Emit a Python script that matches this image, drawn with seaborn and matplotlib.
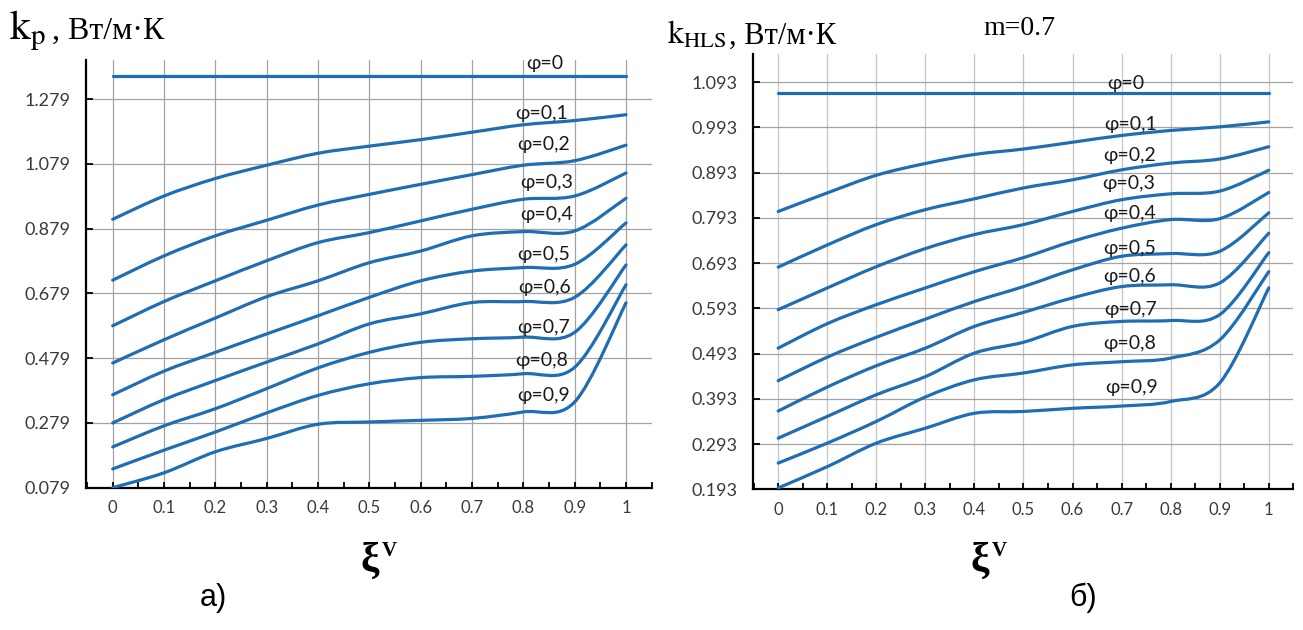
import numpy as np
import matplotlib
matplotlib.use("Agg")
import matplotlib.pyplot as plt
from matplotlib.path import Path
from matplotlib.patches import PathPatch
from matplotlib.ticker import FixedLocator, FixedFormatter
import seaborn as sns

# ---------------- data ----------------
xi = [0.0, 0.1, 0.2, 0.3, 0.4, 0.5, 0.6, 0.7, 0.8, 0.9, 1.0]
xi_labels = ["0", "0.1", "0.2", "0.3", "0.4", "0.5", "0.6", "0.7", "0.8", "0.9", "1"]
phi_labels = ["φ=0", "φ=0,1", "φ=0,2", "φ=0,3", "φ=0,4",
              "φ=0,5", "φ=0,6", "φ=0,7", "φ=0,8", "φ=0,9"]

# a) k_p
kp_ticks = [0.079, 0.279, 0.479, 0.679, 0.879, 1.079, 1.279]
kp_phi00 = [1.351, 1.351, 1.351, 1.351, 1.351, 1.351, 1.351, 1.351, 1.351, 1.351, 1.351]
kp_phi01 = [0.908, 0.980, 1.034, 1.075, 1.112, 1.134, 1.154, 1.177, 1.200, 1.213, 1.231]
kp_phi02 = [0.720, 0.795, 0.857, 0.905, 0.952, 0.985, 1.016, 1.046, 1.075, 1.089, 1.137]
kp_phi03 = [0.579, 0.654, 0.718, 0.780, 0.836, 0.867, 0.903, 0.939, 0.970, 0.980, 1.051]
kp_phi04 = [0.464, 0.536, 0.603, 0.669, 0.718, 0.774, 0.810, 0.857, 0.870, 0.872, 0.973]
kp_phi05 = [0.366, 0.439, 0.497, 0.554, 0.610, 0.667, 0.718, 0.748, 0.759, 0.769, 0.897]
kp_phi06 = [0.279, 0.351, 0.410, 0.467, 0.523, 0.585, 0.616, 0.651, 0.654, 0.667, 0.829]
kp_phi07 = [0.205, 0.270, 0.323, 0.385, 0.449, 0.497, 0.528, 0.539, 0.544, 0.559, 0.767]
kp_phi08 = [0.137, 0.195, 0.251, 0.310, 0.364, 0.400, 0.419, 0.423, 0.431, 0.451, 0.706]
kp_phi09 = [0.079, 0.125, 0.190, 0.231, 0.275, 0.282, 0.287, 0.293, 0.313, 0.344, 0.650]

# б) k_HLS, m = 0.7
khls_ticks = [0.193, 0.293, 0.393, 0.493, 0.593, 0.693, 0.793, 0.893, 0.993, 1.093]
khls_phi00 = [1.069, 1.069, 1.069, 1.069, 1.069, 1.069, 1.069, 1.069, 1.069, 1.069, 1.069]
khls_phi01 = [0.807, 0.848, 0.887, 0.913, 0.933, 0.945, 0.960, 0.975, 0.986, 0.994, 1.005]
khls_phi02 = [0.684, 0.733, 0.778, 0.811, 0.835, 0.859, 0.877, 0.899, 0.914, 0.923, 0.950]
khls_phi03 = [0.590, 0.638, 0.685, 0.725, 0.756, 0.778, 0.807, 0.833, 0.846, 0.852, 0.898]
khls_phi04 = [0.505, 0.559, 0.601, 0.638, 0.674, 0.705, 0.741, 0.770, 0.789, 0.791, 0.849]
khls_phi05 = [0.433, 0.485, 0.529, 0.569, 0.608, 0.641, 0.678, 0.708, 0.714, 0.719, 0.804]
khls_phi06 = [0.366, 0.419, 0.466, 0.505, 0.553, 0.584, 0.616, 0.641, 0.645, 0.649, 0.759]
khls_phi07 = [0.306, 0.354, 0.402, 0.442, 0.494, 0.518, 0.553, 0.564, 0.566, 0.579, 0.716]
khls_phi08 = [0.251, 0.295, 0.343, 0.397, 0.435, 0.450, 0.468, 0.475, 0.483, 0.523, 0.674]
khls_phi09 = [0.196, 0.243, 0.295, 0.328, 0.361, 0.365, 0.372, 0.377, 0.387, 0.428, 0.638]

kp_curves = [kp_phi01, kp_phi02, kp_phi03, kp_phi04, kp_phi05,
             kp_phi06, kp_phi07, kp_phi08, kp_phi09]
khls_curves = [khls_phi01, khls_phi02, khls_phi03, khls_phi04, khls_phi05,
               khls_phi06, khls_phi07, khls_phi08, khls_phi09]

# label anchors (data coordinates) for the φ captions
kp_label_pos = [(0.842, 1.390), (0.836, 1.236), (0.840, 1.139), (0.845, 1.021),
                (0.845, 0.923), (0.839, 0.800), (0.842, 0.697), (0.839, 0.574),
                (0.836, 0.472), (0.839, 0.364)]
khls_label_pos = [(0.709, 1.090), (0.719, 0.999), (0.717, 0.930), (0.714, 0.869),
                  (0.716, 0.802), (0.717, 0.726), (0.717, 0.663), (0.719, 0.590),
                  (0.717, 0.516), (0.721, 0.418)]

# ---------------- style ----------------
sns.set_theme(style="white")
plt.rcParams["font.family"] = ["Lato", "DejaVu Sans"]
plt.rcParams["mathtext.fontset"] = "stix"

LINE = "#1f6db2"
GRID = "#a3a3a3"
GRID_LIGHT = "#c4c4c4"
TICKC = "#3a3a3a"
W, H = 1303, 630

fig = plt.figure(figsize=(W / 100, H / 100), dpi=100)
fig.patch.set_facecolor("white")


def fig_xy(px, py):
    return px / W, 1 - py / H


def smooth_line(ax, x, y, **kw):
    """Smoothed line through the points (cubic Bezier segments, Catmull-Rom tangents)."""
    x = np.asarray(x, float)
    y = np.asarray(y, float)
    ex = np.concatenate([[x[0]], x, [x[-1]]])
    ey = np.concatenate([[y[0]], y, [y[-1]]])
    verts = [(x[0], y[0])]
    codes = [Path.MOVETO]
    for i in range(len(x) - 1):
        c1 = (x[i] + (ex[i + 2] - ex[i]) / 6, y[i] + (ey[i + 2] - ey[i]) / 6)
        c2 = (x[i + 1] - (ex[i + 3] - ex[i + 1]) / 6, y[i + 1] - (ey[i + 3] - ey[i + 1]) / 6)
        verts += [c1, c2, (x[i + 1], y[i + 1])]
        codes += [Path.CURVE4] * 3
    ax.add_patch(PathPatch(Path(verts, codes), fill=False, transform=ax.transData,
                           capstyle="round", joinstyle="round", zorder=3, **kw))


def setup_axes(ax, yticks, ylim, vgrid_color):
    ax.set_xlim(-0.052, 1.05)
    ax.set_ylim(*ylim)
    ax.set_facecolor("white")
    for side in ("top", "right"):
        ax.spines[side].set_visible(False)
    for side in ("left", "bottom"):
        ax.spines[side].set_color("black")
        ax.spines[side].set_linewidth(1.6)
    ax.xaxis.set_major_locator(FixedLocator(xi))
    ax.xaxis.set_major_formatter(FixedFormatter(xi_labels))
    ax.xaxis.set_minor_locator(FixedLocator([-0.05, 0.05, 0.15, 0.25, 0.35, 0.45, 0.55,
                                             0.65, 0.75, 0.85, 0.95, 1.05]))
    ax.yaxis.set_major_locator(FixedLocator(yticks))
    ax.yaxis.set_major_formatter(FixedFormatter([f"{v:.3f}" for v in yticks]))
    ax.tick_params(axis="both", which="both", direction="in", color="black",
                   width=1.3, bottom=True, left=True)
    ax.tick_params(axis="x", which="both", length=4.5, pad=9,
                   labelsize=12, labelcolor=TICKC)
    ax.tick_params(axis="y", which="major", length=5, pad=11,
                   labelsize=13, labelcolor=TICKC)
    for lab in ax.get_xticklabels():
        lab.set_family(["Liberation Sans Narrow", "Lato"])
    ax.grid(True, axis="y", which="major", color=GRID, linewidth=0.9)
    ax.grid(True, axis="x", which="major", color=vgrid_color, linewidth=0.9)
    ax.set_axisbelow(True)


def draw_panel(ax, flat, curves, label_pos):
    sns.lineplot(x=xi, y=flat, ax=ax, color=LINE, linewidth=2.3, legend=False, zorder=3)
    for c in curves:
        smooth_line(ax, xi, c, edgecolor=LINE, linewidth=2.3)
    for lab, (lx, ly) in zip(phi_labels, label_pos):
        ax.text(lx, ly, lab, ha="center", va="center", fontsize=14,
                color="#1a1a1a", zorder=4, clip_on=False)


# ---- a) ----
ax1 = fig.add_axes([86 / W, (H - 487.7) / H, (651.7 - 86) / W, (487.7 - 60) / H])
setup_axes(ax1, kp_ticks, (0.079, 1.400), GRID)
draw_panel(ax1, kp_phi00, kp_curves, kp_label_pos)

# ---- б) ----
ax2 = fig.add_axes([752.7 / W, (H - 489.3) / H, (1293.3 - 752.7) / W, (489.3 - 54) / H])
setup_axes(ax2, khls_ticks, (0.193, 1.155), GRID_LIGHT)
draw_panel(ax2, khls_phi00, khls_curves, khls_label_pos)

# ---- axis titles and captions ----
serif = ["Liberation Serif", "DejaVu Serif"]
fig.text(*fig_xy(9, 39), r"$\mathrm{k_p}$", fontsize=30, color="black", va="baseline")
fig.text(*fig_xy(44, 39), " , Вт/м·К", family=serif, fontsize=23, color="black",
         va="baseline")

fig.text(*fig_xy(667, 44), r"$\mathrm{k_{HLS}}$", fontsize=23, color="black", va="baseline")
fig.text(*fig_xy(729, 44), ", Вт/м·К", family=serif, fontsize=22, color="black",
         va="baseline")
fig.text(*fig_xy(983, 35), "m=0.7", family=serif, fontsize=20, color="black", va="baseline")

for cx in (370, 980):
    fig.text(*fig_xy(cx, 572), "ξ", family=serif, fontsize=30, fontweight="bold",
             ha="center", va="baseline", color="black")
    fig.text(*fig_xy(cx + 12, 556), "V", family=serif, fontsize=15, fontweight="bold",
             ha="left", va="baseline", color="black")

fig.text(*fig_xy(213, 598), "а)", family=["Liberation Sans Narrow", "Liberation Sans"],
         fontsize=22, ha="center", va="center", color="black")
fig.text(*fig_xy(1083, 598), "б)", family=["Liberation Sans Narrow", "Liberation Sans"],
         fontsize=22, ha="center", va="center", color="black")

fig.savefig("out.png", dpi=100, facecolor="white")
